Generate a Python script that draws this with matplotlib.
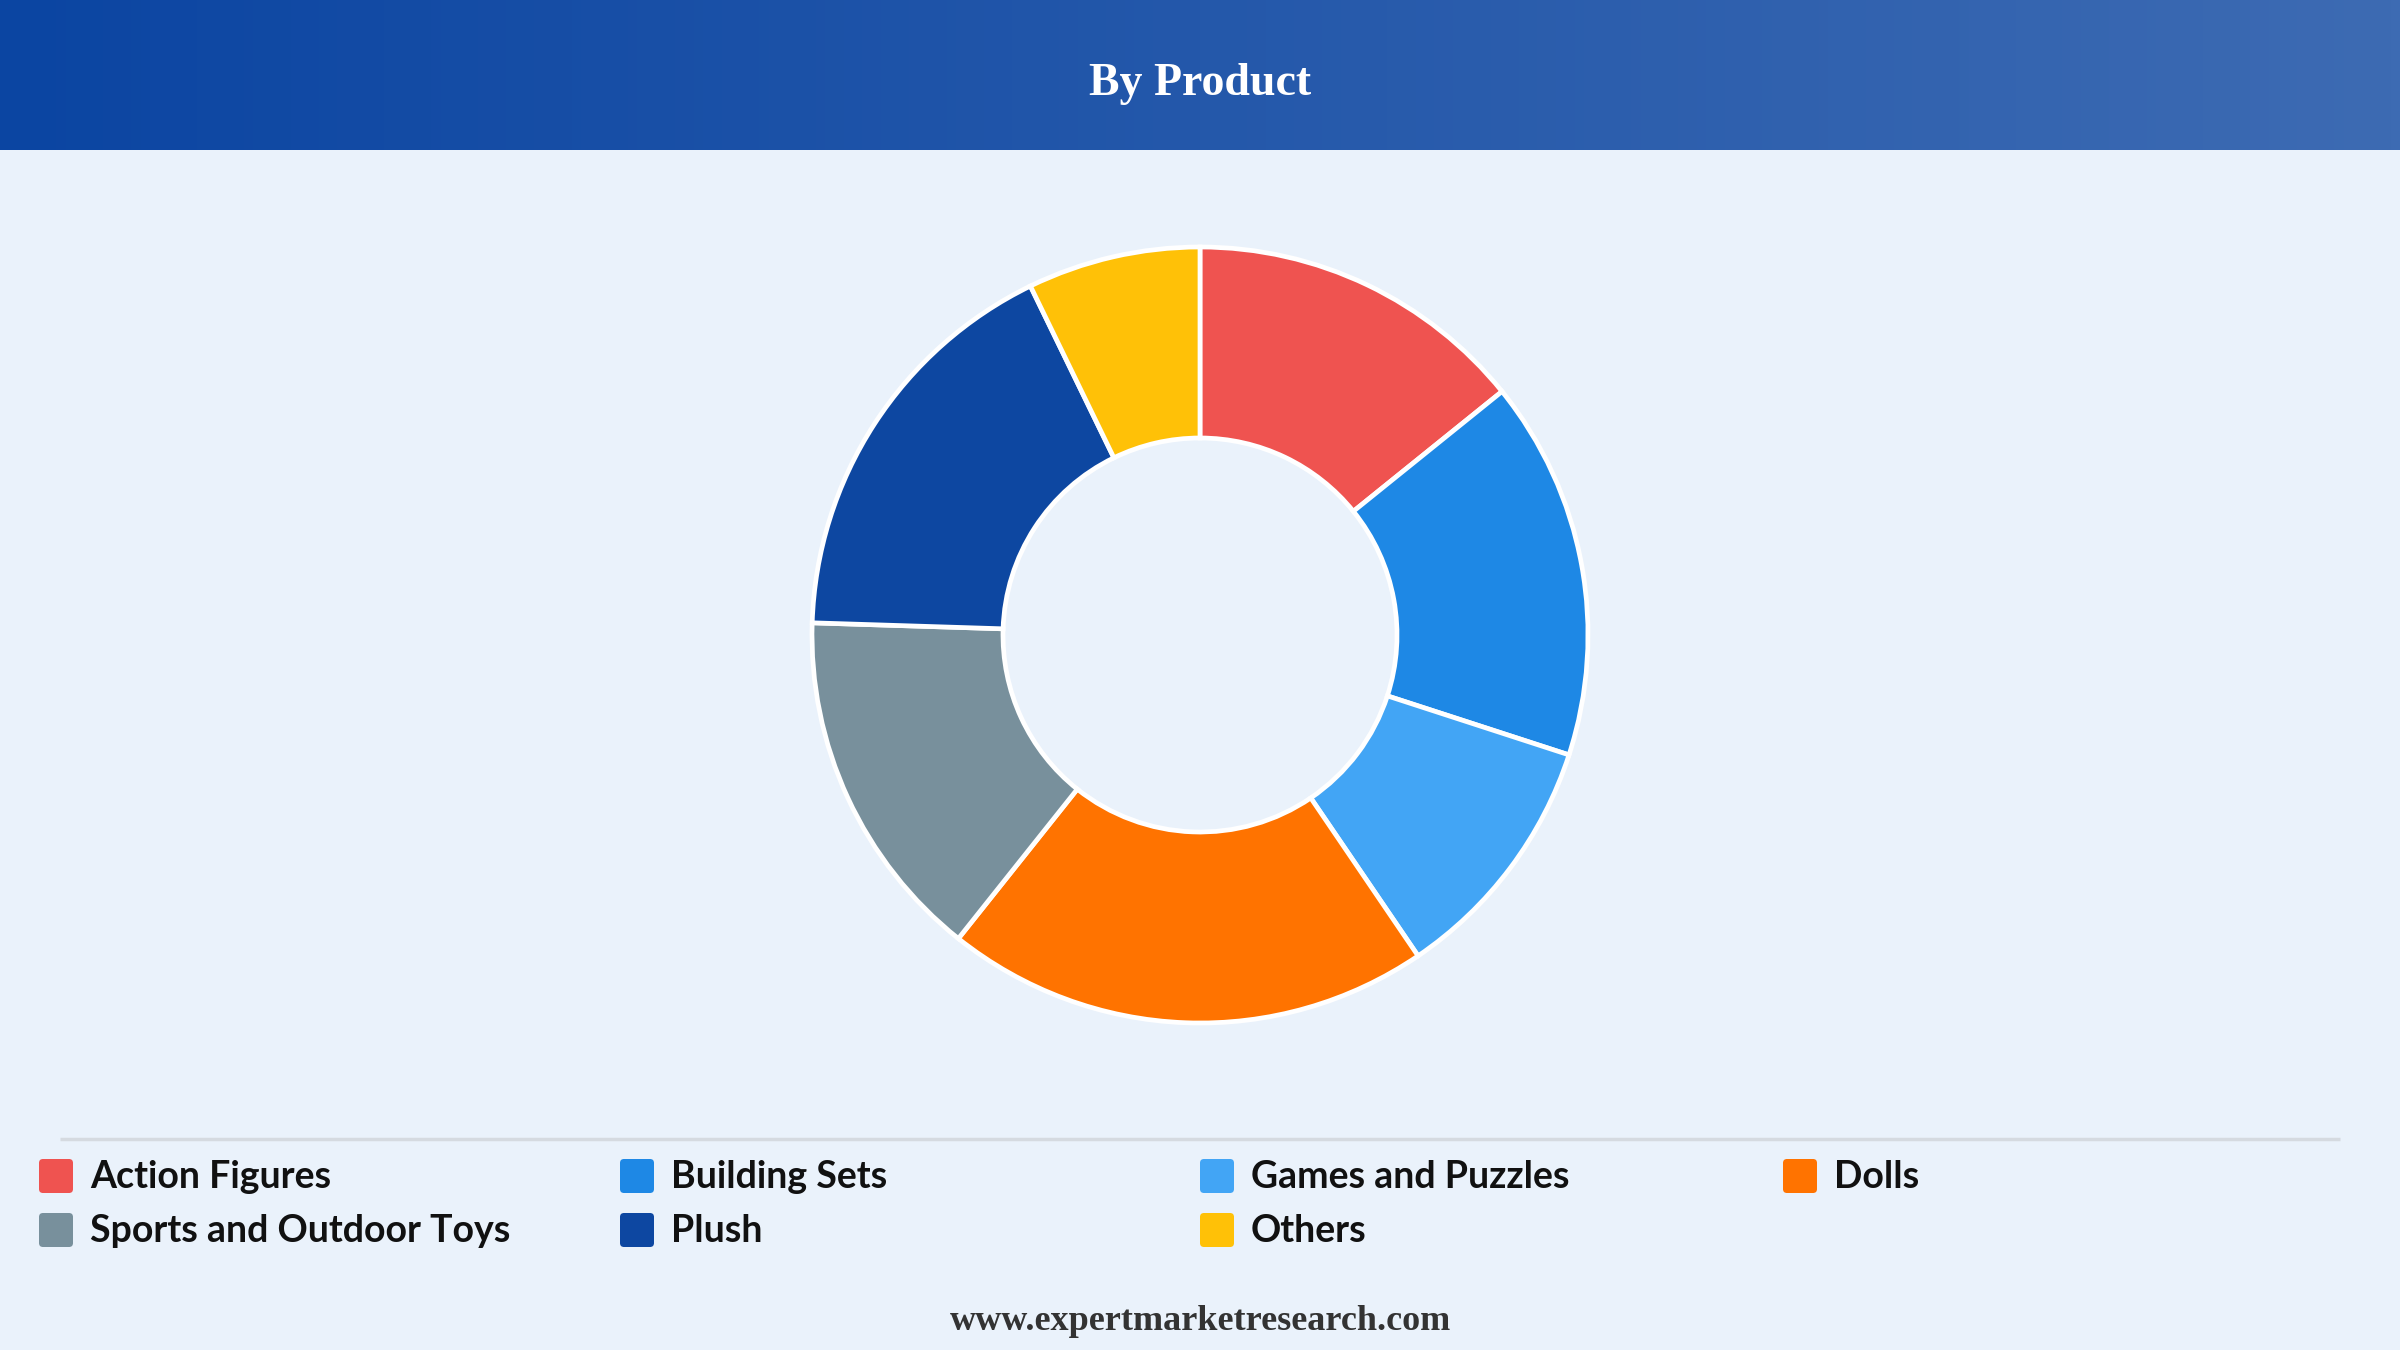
import matplotlib
matplotlib.use("Agg")
import matplotlib.pyplot as plt
import numpy as np
from matplotlib.patches import FancyBboxPatch
from matplotlib.colors import LinearSegmentedColormap

categories = ["Action Figures", "Building Sets", "Games and Puzzles", "Dolls",
              "Sports and Outdoor Toys", "Plush", "Others"]
shares = [14.2, 15.8, 10.5, 20.2, 14.8, 17.3, 7.2]
colors = ["#EF5350", "#1E88E5", "#42A5F5", "#FF7300", "#78909C", "#0D47A1", "#FFC107"]
title = "By Product"
footer = "www.expertmarketresearch.com"

W, H = 2400, 1350
BG = "#EAF2FB"
fig = plt.figure(figsize=(W / 100, H / 100), dpi=100, facecolor=BG)

# header gradient
hdr_h = 150
hax = fig.add_axes([0, 1 - hdr_h / H, 1, hdr_h / H])
grad = np.linspace(0, 1, 512)[None, :]
cmap = LinearSegmentedColormap.from_list("hdr", ["#0B45A2", "#3D6BB3"])
hax.imshow(grad, aspect="auto", cmap=cmap, extent=[0, 1, 0, 1])
hax.set_axis_off()
hax.text(0.5, 0.44, title, ha="center", va="center", color="white",
         fontsize=33, fontweight="bold", family="Liberation Serif")

# donut
cx, cy, R, r_in = 1200, 635, 388, 197
half = 400
L = half / R
pax = fig.add_axes([(cx - half) / W, (H - cy - half) / H, 2 * half / W, 2 * half / H])
pax.pie(shares, colors=colors, startangle=90, counterclock=False, radius=1,
        wedgeprops=dict(width=1 - r_in / R, edgecolor="white", linewidth=3.4))
pax.set_xlim(-L, L)
pax.set_ylim(-L, L)
pax.set_aspect("equal")
pax.set_axis_off()

# overlay for legend/footer in pixel coordinates
oax = fig.add_axes([0, 0, 1, 1])
oax.set_xlim(0, W)
oax.set_ylim(H, 0)
oax.set_axis_off()
oax.patch.set_alpha(0)

oax.plot([60, 2340], [1139, 1139], color="#D5DAE0", linewidth=2.5, solid_capstyle="butt")

col_x = [39, 620, 1200, 1783]
row_y = [1176, 1230]
box = 34
for i, (cat, c) in enumerate(zip(categories, colors)):
    x = col_x[i % 4]
    y = row_y[i // 4]
    oax.add_patch(FancyBboxPatch((x + 4, y - box / 2 + 4), box - 8, box - 8,
                                 boxstyle="round,pad=4", facecolor=c, edgecolor="none"))
    oax.text(x + 51, y + 1, cat, ha="left", va="center", fontsize=27,
             fontweight="bold", family="Lato", color="#111111")

oax.text(W / 2, 1322, footer, ha="center", va="center", fontsize=26,
         fontweight="bold", family="Liberation Serif", color="#333333")

fig.savefig("out.png", dpi=100, facecolor=BG)
